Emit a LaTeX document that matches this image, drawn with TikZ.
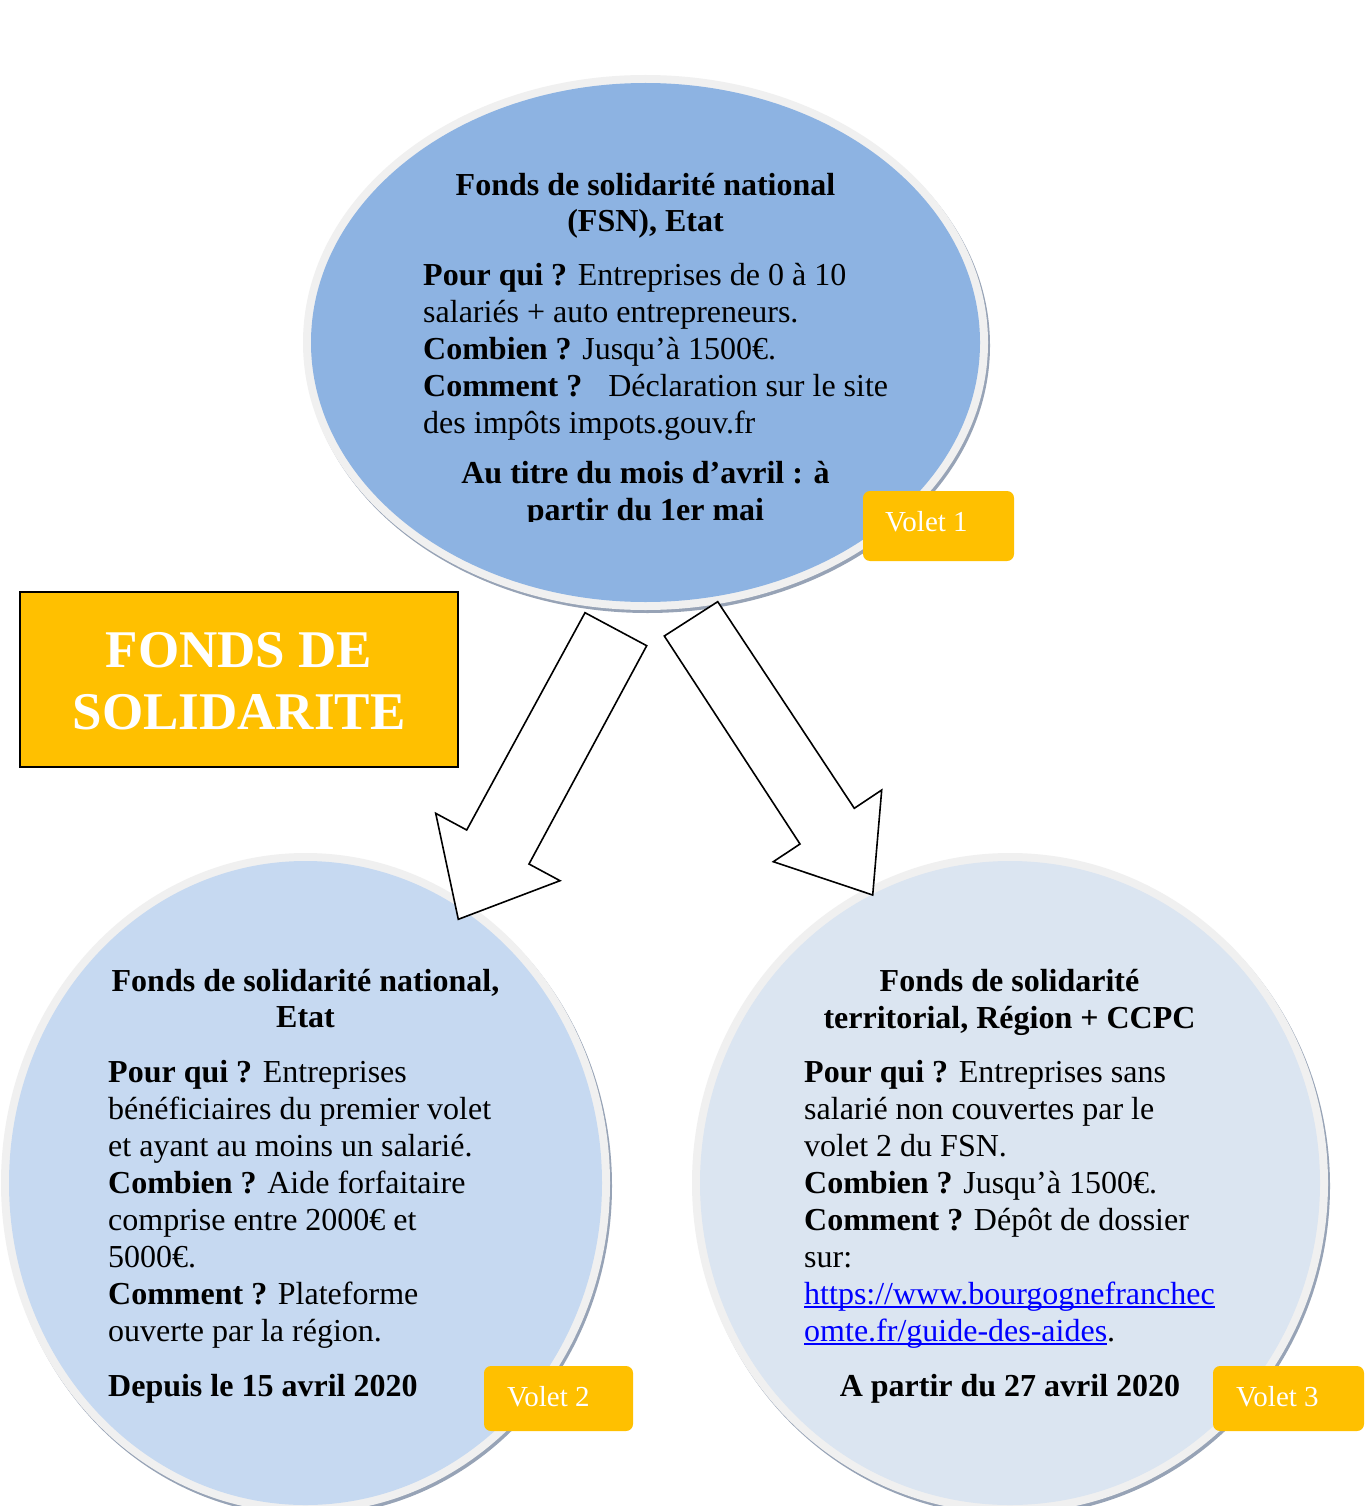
\documentclass[tikz,border=0pt]{standalone}
\usepackage{fontspec}
\setmainfont{Liberation Serif}
\definecolor{topfill}{HTML}{8DB3E2}
\definecolor{leftfill}{HTML}{C6D9F1}
\definecolor{rightfill}{HTML}{DBE5F1}
\definecolor{rimgray}{HTML}{F0F0F0}
\definecolor{shadowgray}{HTML}{97A3B6}
\definecolor{voletyellow}{HTML}{FFC000}
\definecolor{linkblue}{HTML}{0000FF}
\newcommand\linkul[1]{{\color{linkblue}\setbox0=\hbox{#1}\rlap{\rule[-4pt]{\wd0}{1.6pt}}\box0}}
\tikzset{
  bodytext/.style={inner sep=0pt, align=left, anchor=base west, font=\fontsize{32}{37}\selectfont},
  headtext/.style={inner sep=0pt, align=center, anchor=base, font=\bfseries\fontsize{32}{36.5}\selectfont},
  datetext/.style={inner sep=0pt, align=center, anchor=base, font=\bfseries\fontsize{32}{37}\selectfont},
  volettext/.style={inner sep=0pt, anchor=base west, text=white, font=\fontsize{29}{33}\selectfont},
  blockarrow/.style={draw=black, fill=white, line width=1.6pt, line join=miter},
}
\begin{document}
\begin{tikzpicture}[x=1pt,y=-1pt]
\useasboundingbox (0,0) rectangle (1366,1506);
\fill[white] (0,0) rectangle (1366,1506);

% top ellipse
\fill[shadowgray] (647.5,345.5) ellipse [x radius=342.5pt, y radius=267.5pt];
\fill[rimgray] (645.5,342.5) ellipse [x radius=342.5pt, y radius=267.5pt];
\fill[topfill] (645.5,342.5) ellipse [x radius=334.5pt, y radius=259.5pt];

% bottom left circle
\fill[shadowgray] (307.5,1186) ellipse [x radius=304.5pt, y radius=330pt];
\fill[rimgray] (305.5,1183) ellipse [x radius=304.5pt, y radius=330pt];
\fill[leftfill] (305.5,1183) ellipse [x radius=296.5pt, y radius=322pt];

% bottom right circle
\fill[shadowgray] (1012,1186) ellipse [x radius=318pt, y radius=330pt];
\fill[rimgray] (1010,1183) ellipse [x radius=318pt, y radius=330pt];
\fill[rightfill] (1010,1183) ellipse [x radius=310pt, y radius=322pt];

% block arrows
\draw[blockarrow] (585,612.7) -- (646.7,645.7) -- (529,864) -- (560,880.7) -- (458.3,919.3) -- (435.7,813.3) -- (466.7,830) -- cycle;
\draw[blockarrow] (664.3,636) -- (717.7,601.7) -- (854.3,808.3) -- (881.7,790) -- (872.7,895) -- (773.3,861.7) -- (800,844) -- cycle;

% title box
\draw[fill=voletyellow, line width=2pt] (20,592) rectangle (458,767);
\node[inner sep=0pt, align=center, anchor=base, text=white, font=\bfseries\fontsize{53}{62}\selectfont] (title) at (239,729.5) {FONDS DE\\SOLIDARITE};

% top texts (base anchor = baseline of last line)
\node[headtext] (tophead) at (645.5,232) {Fonds de solidarité national\\(FSN), Etat};
\node[bodytext] (topbody) at (423,433) {\textbf{Pour qui ?} Entreprises de 0 à 10\\salariés + auto entrepreneurs.\\\textbf{Combien ?} Jusqu’à 1500€.\\\textbf{Comment ?}\hspace{26pt}Déclaration sur le site\\des impôts impots.gouv.fr};
\begin{scope}
\clip (380,440) rectangle (900,521);
\node[datetext] (topdate) at (645.5,520) {Au titre du mois d’avril : à\\partir du 1er mai};
\end{scope}

% left texts
\node[headtext] (lefthead) at (305.5,1027.5) {Fonds de solidarité national,\\Etat};
\node[bodytext] (leftbody) at (108,1341) {\textbf{Pour qui ?} Entreprises\\bénéficiaires du premier volet\\et ayant au moins un salarié.\\\textbf{Combien ?} Aide forfaitaire\\comprise entre 2000€ et\\5000€.\\\textbf{Comment ?} Plateforme\\ouverte par la région.};
\node[datetext, anchor=base west] (leftdate) at (108,1396) {Depuis le 15 avril 2020};

% right texts
\node[headtext] (righthead) at (1009.5,1028) {Fonds de solidarité\\territorial, Région + CCPC};
\node[bodytext] (rightbody) at (804,1341) {\textbf{Pour qui ?} Entreprises sans\\salarié non couvertes par le\\volet 2 du FSN.\\\textbf{Combien ?} Jusqu’à 1500€.\\\textbf{Comment ?} Dépôt de dossier\\sur:\\\linkul{https://www.bourgognefranchec}\\\linkul{omte.fr/guide-des-aides}.};
\node[datetext] (rightdate) at (1010,1396) {A partir du 27 avril 2020};

% volet labels
\fill[voletyellow, rounded corners=7pt] (863,491) rectangle (1014,561);
\node[volettext] (volet1) at (885,531.5) {Volet 1};
\fill[voletyellow, rounded corners=7pt] (484,1366) rectangle (633,1431);
\node[volettext] (volet2) at (507,1406.5) {Volet 2};
\fill[voletyellow, rounded corners=7pt] (1213,1366) rectangle (1364,1431);
\node[volettext] (volet3) at (1236,1406.5) {Volet 3};
\end{tikzpicture}
\end{document}
